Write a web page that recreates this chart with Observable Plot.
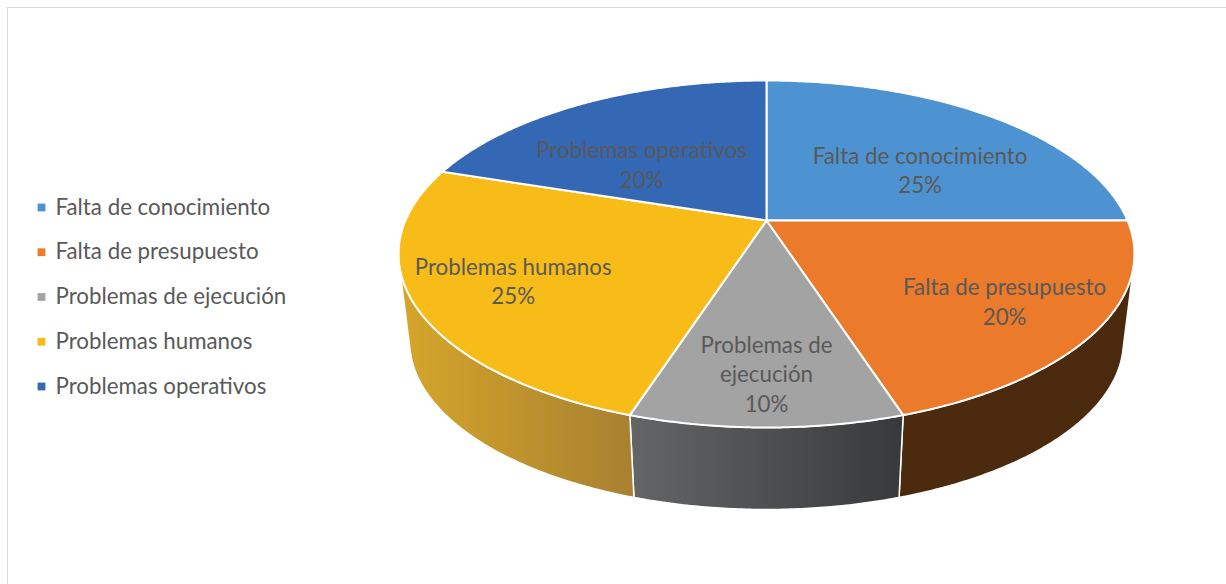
<!DOCTYPE html>
<html><head><meta charset="utf-8">
<script src="https://cdn.jsdelivr.net/npm/d3@7"></script>
<script src="https://cdn.jsdelivr.net/npm/@observablehq/plot@0.6"></script>
<style>
body{margin:0;background:#fff;}
#wrap{position:relative;width:1226px;height:584px;overflow:hidden;}
#border{position:absolute;left:7px;top:7px;width:1400px;height:800px;border-top:1.5px solid #d9d9d9;border-left:1.5px solid #d9d9d9;}
#chart{position:absolute;left:0;top:0;}
</style></head><body>
<div id="wrap"><div id="border"></div><div id="chart"></div></div>
<script>
// ---- data ----
const categories = ["Falta de conocimiento","Falta de presupuesto","Problemas de ejecución","Problemas humanos","Problemas operativos"];
const values = [25, 20, 10, 25, 20];
// ---- palette ----
const topColors = ["#4E93D1","#EB7A2A","#A3A3A3","#F8BC18","#3467B4"];
const sideFrom  = ["#2D5E8C","#4B2A0E","#646566","#D6A62B","#22497F"];
const sideTo    = ["#2D5E8C","#4A290D","#38393A","#A88030","#22497F"];

const W = 1226, H = 584;
// perspective projection of a tilted disc
const cx = 766, cy = 220, f = 1657, D = 4.59, sp = 0.4627, cp = 0.8865;
const Vy = 3160, k = 0.97; // vanishing behaviour of the side walls
function topPt(t, r = 1) {
  const x = r * Math.sin(t), z = r * Math.cos(t);
  const depth = D + z * cp;
  return [cx + f * x / depth, cy - f * z * sp / depth];
}
function botPt(t) {
  const [X, Y] = topPt(t);
  return [cx + k * (X - cx), Vy + k * (Y - Vy)];
}
// silhouettes
let tR = 0, tL = 0, bR = -Infinity, bL = Infinity;
for (let d = 0; d < 360; d += 0.1) {
  const t = d * Math.PI / 180, [X, Y] = topPt(t), s = (X - cx) / (Vy - Y);
  if (s > bR) { bR = s; tR = t; }
  if (s < bL) { bL = s; tL = t; }
}
const total = d3.sum(values);
const slices = [];
let cum = 0;
values.forEach((v, i) => {
  const a0 = cum / total * 2 * Math.PI; cum += v;
  const a1 = cum / total * 2 * Math.PI;
  slices.push({i, cat: categories[i], v, a0, a1, mid: (a0 + a1) / 2, share: v / total});
});
function arc(s0, s1, fn) {
  const n = Math.max(2, Math.ceil(Math.abs(s1 - s0) / (Math.PI / 360)));
  return d3.range(n + 1).map(j => fn(s0 + (s1 - s0) * j / n));
}
// top faces
const topRows = [];
slices.forEach(s => {
  const pts = [[cx, cy], ...arc(s.a0, s.a1, t => topPt(t)), [cx, cy]];
  pts.forEach(p => topRows.push({cat: s.cat, x: p[0], y: p[1], color: topColors[s.i]}));
});
// side walls (front-facing part only)
const sideMarks = [];
slices.forEach(s => {
  const s0 = Math.max(s.a0, tR), s1 = Math.min(s.a1, tL);
  if (s1 <= s0) return;
  const pts = [...arc(s0, s1, t => topPt(t)), ...arc(s1, s0, t => botPt(t))];
  pts.push(pts[0]);
  sideMarks.push(Plot.line(pts.map(p => ({x: p[0], y: p[1]})), {
    x: "x", y: "y", fill: `url(#side${s.i})`, stroke: "white", strokeWidth: 1.5, strokeLinejoin: "round"
  }));
});
// labels ("best fit"-like placement on the top face)
function wrap(name, max) {
  const words = name.split(" "), lines = [];
  let cur = "";
  for (const w of words) {
    if (cur && (cur + " " + w).length > max) { lines.push(cur); cur = w; }
    else cur = cur ? cur + " " + w : w;
  }
  lines.push(cur);
  return lines.join("\n");
}
const labelRows = slices.map(s => {
  const c = Math.cos(s.mid);
  const [x, y] = topPt(s.mid, 0.705 - 0.07 * c);
  const name = s.share < 0.15 ? wrap(s.cat, 13) : s.cat;
  return {x, y: y + 28 * Math.max(0, c), text: name + "\n" + Math.round(s.share * 100) + "%"};
});
// legend
const legendRows = categories.map((c, i) => ({cat: c, color: topColors[i], sx: 41, tx: 55, y: 207 + i * 44.75}));

const font = "Lato, 'Open Sans', sans-serif";
const fs = 22.3;
const chart = Plot.plot({
  width: W, height: H, margin: 0,
  x: {domain: [0, W], range: [0, W], axis: null},
  y: {domain: [0, H], range: [0, H], axis: null},
  color: {type: "identity"},
  style: {background: "transparent"},
  marks: [
    ...sideMarks,
    Plot.line(topRows, {x: "x", y: "y", z: "cat", fill: "color", stroke: "white", strokeWidth: 2, strokeLinejoin: "round"}),
    Plot.text(labelRows, {x: "x", y: "y", text: "text", fill: "#595959", fontSize: fs, fontFamily: font, lineHeight: 29.5 / fs, textAnchor: "middle"}),
    Plot.dot(legendRows, {x: "sx", y: "y", symbol: "square", r: 4.4, fill: "color", stroke: null}),
    Plot.text(legendRows, {x: "tx", y: "y", text: "cat", textAnchor: "start", fill: "#595959", fontSize: fs, fontFamily: font})
  ]
});
// gradients for the side walls
const ns = "http://www.w3.org/2000/svg";
const defs = document.createElementNS(ns, "defs");
slices.forEach(s => {
  const g = document.createElementNS(ns, "linearGradient");
  g.setAttribute("id", `side${s.i}`);
  g.setAttribute("x1", "0"); g.setAttribute("x2", "1"); g.setAttribute("y1", "0"); g.setAttribute("y2", "0");
  [[0, sideFrom[s.i]], [1, sideTo[s.i]]].forEach(([o, c]) => {
    const st = document.createElementNS(ns, "stop");
    st.setAttribute("offset", o); st.setAttribute("stop-color", c);
    g.appendChild(st);
  });
  defs.appendChild(g);
});
chart.insertBefore(defs, chart.firstChild);
document.getElementById("chart").appendChild(chart);
</script>
</body></html>
